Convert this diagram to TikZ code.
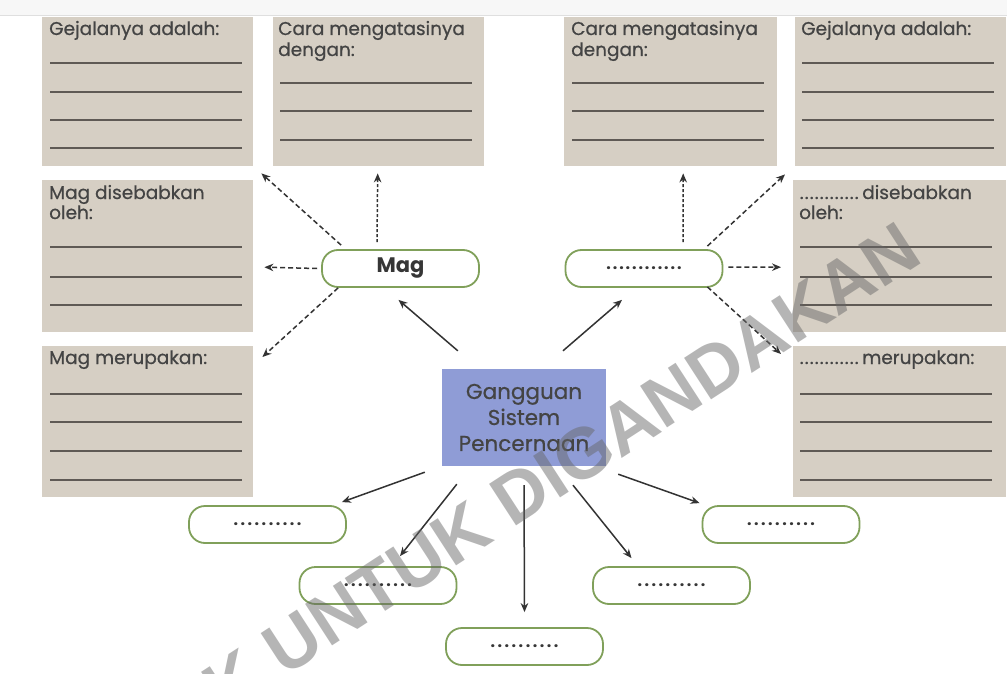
\documentclass[tikz,border=0pt]{standalone}
\usepackage{fontspec}
\setmainfont{Poppins}
\newfontfamily\tfont[FakeBold=0.6]{Poppins}
\newfontfamily\wmfont{Liberation Sans}
\usetikzlibrary{calc,arrows.meta}
\definecolor{beige}{RGB}{214,207,196}
\definecolor{rulec}{RGB}{95,90,85}
\definecolor{ovalg}{RGB}{128,160,90}
\definecolor{cblue}{RGB}{143,156,214}
\definecolor{txt}{RGB}{68,68,68}
\newcommand{\dotrow}[2]{\hbox to #1pt{\xleaders\hbox to #2pt{\hss.\hss}\hfill}}
\tikzset{
  box/.style={fill=beige, draw=none, anchor=north west, inner sep=0pt},
  ttl/.style={anchor=base west, inner sep=0pt, text=txt, font=\tfont\fontsize{18.5}{20}\selectfont},
  rule/.style={draw=rulec, line width=1.1pt},
  oval/.style={draw=ovalg, line width=1.8pt, rounded corners=16pt, minimum width=157pt, minimum height=37pt, inner sep=0pt, fill=white, text=txt!80!black, font=\fontsize{16}{16}\selectfont\bfseries},
  conn/.style={-{Stealth[length=9pt,width=7.5pt]}, line width=1.5pt, draw=black!80},
  dasharr/.style={conn, dash pattern=on 5pt off 3pt},
  dotarr/.style={conn, dash pattern=on 3pt off 2pt},
}
\begin{document}
\begin{tikzpicture}[x=1pt,y=-1pt]
\useasboundingbox (0,0) rectangle (1007,674);
\fill[white] (0,0) rectangle (1007,674);
\fill[gray!6] (0,0) rectangle (1007,15);
\draw[gray!25, line width=1.5pt] (0,15.5) -- (1007,15.5);

% boxes
\node[box, minimum width=211pt, minimum height=149pt] (tl1) at (42,17) {};
\node[box, minimum width=211pt, minimum height=149pt] (tl2) at (273,17) {};
\node[box, minimum width=213pt, minimum height=149pt] (tr1) at (564,17) {};
\node[box, minimum width=211pt, minimum height=149pt] (tr2) at (795,17) {};
\node[box, minimum width=211pt, minimum height=152pt] (ml) at (42,180) {};
\node[box, minimum width=211pt, minimum height=151pt] (bl) at (42,346) {};
\node[box, minimum width=213pt, minimum height=152pt] (mr) at (793,180) {};
\node[box, minimum width=213pt, minimum height=151pt] (br) at (793,346) {};

% titles
\node[ttl] (tl1a) at (49,35) {Gejalanya adalah:};
\node[ttl] (tl2a) at (278,35) {Cara mengatasinya};
\node[ttl] (tl2b) at (278,56) {dengan:};
\node[ttl] (tr1a) at (571,35) {Cara mengatasinya};
\node[ttl] (tr1b) at (571,56) {dengan:};
\node[ttl] (tr2a) at (801,35) {Gejalanya adalah:};
\node[ttl] (mla) at (49,199) {Mag disebabkan};
\node[ttl] (mlb) at (49,219) {oleh:};
\node[ttl] (bla) at (49,364) {Mag merupakan:};
\node[ttl] (mra) at (799,199) {\dotrow{60}{5.0}\,disebabkan};
\node[ttl] (mrb) at (799,219) {oleh:};
\node[ttl] (bra) at (799,364) {\dotrow{60}{5.0}\,merupakan:};

% writing lines
\foreach \y in {63,92,120,148} {\draw[rule] (50,\y) -- (242,\y); \draw[rule] (802,\y) -- (994,\y);}
\foreach \y in {83,111,140} {\draw[rule] (280,\y) -- (472,\y); \draw[rule] (572,\y) -- (764,\y);}
\foreach \y in {247,277,305} {\draw[rule] (50,\y) -- (242,\y); \draw[rule] (800,\y) -- (992,\y);}
\foreach \y in {394,422,451,480} {\draw[rule] (50,\y) -- (242,\y); \draw[rule] (800,\y) -- (992,\y);}

% centre
\node[fill=cblue, minimum width=164pt, minimum height=97pt, inner sep=0pt, align=center, text=txt,
      font=\tfont\fontsize{21.5}{26}\selectfont] (c) at (524,417.5) {Gangguan\\Sistem\\Pencernaan};

% ovals
\node[oval, font=\fontsize{21}{21}\selectfont\bfseries] (mag) at (400.5,268.5) {Mag};
\node[oval] (q) at (644,268.5) {\dotrow{77}{6.4}};
\node[oval] (o1) at (267.5,524.5) {\dotrow{71}{6.5}};
\node[oval] (o2) at (378,585.5) {\dotrow{71}{6.5}};
\node[oval] (o3) at (524.5,646.5) {\dotrow{71}{6.5}};
\node[oval] (o4) at (671.5,585.5) {\dotrow{71}{6.5}};
\node[oval] (o5) at (781,524.5) {\dotrow{71}{6.5}};

% solid connectors
\draw[conn] ($(c.north west)+(16,-18)$) -- ($(mag.south)+(-2,12)$);
\draw[conn] ($(c.north)+(39,-18)$) -- ($(q.south)+(-22,12)$);
\draw[conn] ($(c.south west)+(-17,6)$) -- ($(o1.north east)+(-5,-3)$);
\draw[conn] ($(c.south west)+(15,18)$) -- ($(o2.north)+(22,-10)$);
\draw[conn] ($(c.south)+(0,19)$) -- ($(o3.north)+(0,-15)$);
\draw[conn] ($(c.south)+(49,19)$) -- ($(o4.north)+(-40,-8)$);
\draw[conn] ($(c.south east)+(12,8)$) -- ($(o5.north west)+(-2,-2)$);

% dashed connectors from Mag
\draw[dotarr] ($(mag.north)+(-23.5,-7)$) -- ($(tl2.south)+(-1,7)$);
\draw[dasharr] ($(mag.north west)+(20,-4)$) -- ($(tl1.south east)+(8,7)$);
\draw[dasharr] ($(mag.west)+(-4,0)$) -- ($(ml.east)+(11,11)$);
\draw[dasharr] ($(mag.south west)+(17,0)$) -- ($(bl.north east)+(9,11)$);

% dashed connectors from right oval
\draw[dotarr] ($(q.north)+(39,-7)$) -- ($(tr1.south)+(12.5,7)$);
\draw[dasharr] ($(q.north east)+(-16,-3)$) -- ($(tr2.south west)+(-10,8)$);
\draw[dasharr] ($(q.east)+(5,-1.5)$) -- ($(mr.west)+(-12,11)$);
\draw[dasharr] ($(q.south east)+(-16,-1)$) -- ($(br.north west)+(-12,8)$);

% watermark
\node[rotate=33, anchor=east, inner sep=0pt, text=black!60, text opacity=0.48,
      font=\wmfont\bfseries\fontsize{72}{72}\selectfont] (wm) at (912,240) {TIDAK UNTUK DIGANDAKAN};
\end{tikzpicture}
\end{document}
